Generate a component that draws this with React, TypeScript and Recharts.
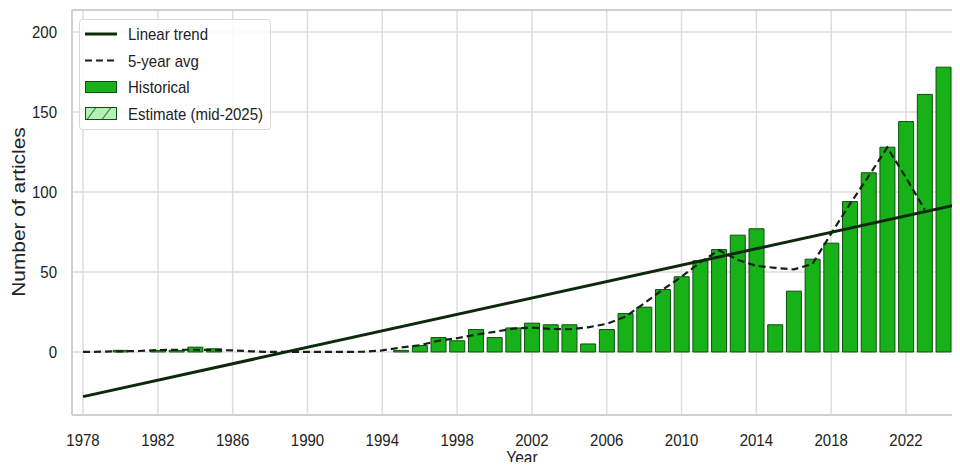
import React from "react";
import { Bar, CartesianGrid, ComposedChart, Line, ReferenceLine, XAxis, YAxis } from "recharts";

const years = [
  1978, 1979, 1980, 1981, 1982, 1983, 1984, 1985, 1986, 1987, 1988, 1989, 1990, 1991, 1992, 1993,
  1994, 1995, 1996, 1997, 1998, 1999, 2000, 2001, 2002, 2003, 2004, 2005, 2006, 2007, 2008, 2009,
  2010, 2011, 2012, 2013, 2014, 2015, 2016, 2017, 2018, 2019, 2020, 2021, 2022, 2023, 2024, 2025,
];

const articles = [
  0, 0, 1, 0, 1, 1, 3, 2, 0, 0, 0, 0, 0, 0, 0, 0,
  0, 1, 4, 9, 7, 14, 9, 15, 18, 17, 17, 5, 14, 24, 28, 39,
  47, 57, 64, 73, 77, 17, 38, 58, 68, 94, 112, 128, 144, 161, 178, null,
];

const fiveYearAvg = [
  0, 0.2, 0.4, 0.6, 1.2, 1.4, 1.4, 1.2, 1.0, 0.4, 0, 0, 0, 0, 0, 0.2,
  1.0, 2.8, 4.2, 7.0, 8.6, 10.8, 12.6, 14.6, 15.2, 14.4, 14.2, 15.4, 17.6, 22, 30.4, 39,
  47, 56, 63.6, 57.6, 53.8, 52.6, 51.6, 55, 74, 92.4, 109.8, 127.8, 109, 89, null, null,
];

const trendYears = [1978, 2025];
const trendValues = [-27.9, 92.8];

const xTicks = [1978, 1982, 1986, 1990, 1994, 1998, 2002, 2006, 2010, 2014, 2018, 2022];
const yTicks = [0, 50, 100, 150, 200];

const data = years.map((year, i) => ({
  year,
  articles: articles[i],
  avg: fiveYearAvg[i],
  trend: trendYears.includes(year) ? trendValues[trendYears.indexOf(year)] : null,
}));

const FONT = "'Liberation Sans', Arial, sans-serif";
const BAR_GREEN = "#17b217";
const BAR_EDGE = "#0f4d0f";
const TREND = "#0b2a0b";
const AVG = "#142214";
const GRID = "#dddddd";
const SPINE = "#d0d0d0";
const TEXT = "#222222";

// the reference text is a little taller than it is wide, so stretch it vertically
function Stretched({ x, y, anchor, size = 15, children }: any) {
  return (
    <text
      transform={`translate(${x},${y}) scale(1,1.13)`}
      textAnchor={anchor}
      fontFamily={FONT}
      fontSize={size}
      fill={TEXT}
    >
      {children}
    </text>
  );
}

function XTick({ x, y, payload }: any) {
  return (
    <Stretched x={x} y={y + 31} anchor="middle">
      {payload.value}
    </Stretched>
  );
}

function YTick({ x, y, payload }: any) {
  return (
    <Stretched x={x - 15} y={y + 6} anchor="end">
      {payload.value}
    </Stretched>
  );
}

function ChartLegend() {
  const rows = [34, 60.5, 87, 113.5];
  return (
    <svg width={300} height={140} style={{ position: "absolute", left: 0, top: 0 }}>
      <defs>
        <pattern id="hatch" width="15" height="12" patternUnits="userSpaceOnUse" x="87" y="107.5">
          <rect width="15" height="12" fill="#b4f2b4" />
          <line x1="0" y1="12" x2="9" y2="0" stroke={BAR_EDGE} strokeWidth={1} />
        </pattern>
      </defs>
      <rect x={79.5} y={19.5} width={191} height={110} rx={3} fill="#ffffff" fillOpacity={0.85} stroke="#d8d8d8" />
      <line x1={85} x2={117} y1={rows[0]} y2={rows[0]} stroke={TREND} strokeWidth={3} />
      <line x1={85} x2={117} y1={rows[1]} y2={rows[1]} stroke={AVG} strokeWidth={2.2} strokeDasharray="7 4" />
      <rect x={85.5} y={rows[2] - 5.5} width={31} height={11} fill={BAR_GREEN} stroke={BAR_EDGE} />
      <rect x={85.5} y={rows[3] - 6} width={31} height={12} fill="url(#hatch)" stroke={BAR_EDGE} />
      <Stretched x={128} y={rows[0] + 6} anchor="start">Linear trend</Stretched>
      <Stretched x={128} y={rows[1] + 6} anchor="start">5-year avg</Stretched>
      <Stretched x={128} y={rows[2] + 6} anchor="start">Historical</Stretched>
      <Stretched x={128} y={rows[3] + 6} anchor="start">Estimate (mid-2025)</Stretched>
    </svg>
  );
}

export default function App() {
  return (
    <div
      style={{
        width: 960,
        height: 470,
        margin: -8,
        overflow: "hidden",
        position: "relative",
        background: "#ffffff",
      }}
    >
      <ComposedChart width={982} height={470} data={data} margin={{ top: 10, right: 10, bottom: 0, left: 0 }}>
        <CartesianGrid stroke={GRID} strokeWidth={1.5} />
        <XAxis
          type="number"
          dataKey="year"
          domain={[1977.41, 2025.53]}
          ticks={xTicks}
          allowDataOverflow
          height={55}
          tickSize={0}
          tickMargin={0}
          tickLine={false}
          axisLine={{ stroke: SPINE, strokeWidth: 2 }}
          tick={<XTick />}
          label={{
            content: () => (
              <Stretched x={522} y={464} anchor="middle" size={15.5}>
                Year
              </Stretched>
            ),
          }}
        />
        <YAxis
          type="number"
          domain={[-39.4, 213.75]}
          ticks={yTicks}
          allowDataOverflow
          width={72}
          tickSize={0}
          tickMargin={0}
          tickLine={false}
          axisLine={{ stroke: SPINE, strokeWidth: 2 }}
          tick={<YTick />}
          label={{
            content: () => (
              <text
                transform="translate(25,212) rotate(-90) scale(1.13,1)"
                textAnchor="middle"
                fontFamily={FONT}
                fontSize={18.5}
                fill={TEXT}
              >
                Number of articles
              </text>
            ),
          }}
        />
        <ReferenceLine y={213.75} stroke={SPINE} strokeWidth={2} />
        <Bar
          dataKey="articles"
          barSize={15}
          fill={BAR_GREEN}
          stroke={BAR_EDGE}
          strokeWidth={1}
          isAnimationActive={false}
        />
        <Line
          dataKey="avg"
          type="linear"
          stroke={AVG}
          strokeWidth={2.2}
          strokeDasharray="7 4"
          dot={false}
          activeDot={false}
          isAnimationActive={false}
        />
        <Line
          dataKey="trend"
          type="linear"
          stroke={TREND}
          strokeWidth={3}
          connectNulls
          dot={false}
          activeDot={false}
          isAnimationActive={false}
        />
      </ComposedChart>
      <ChartLegend />
    </div>
  );
}
